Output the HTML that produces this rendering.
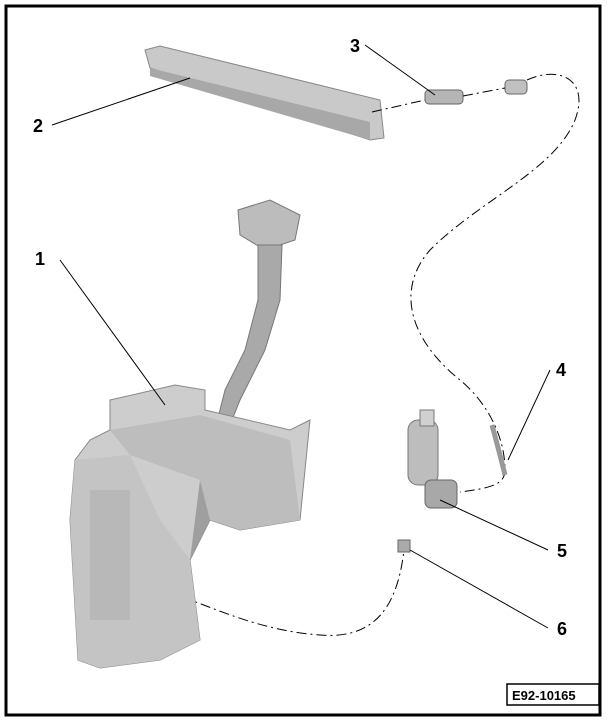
<!DOCTYPE html>
<html><head><meta charset="utf-8"><style>
html,body{margin:0;padding:0;background:#fff}
svg{display:block}
text{font-family:"Liberation Sans",sans-serif;font-weight:bold;font-size:18px;fill:#000}
</style></head><body>
<svg width="607" height="722" viewBox="0 0 607 722" xmlns="http://www.w3.org/2000/svg">
<rect x="0" y="0" width="607" height="722" fill="#fff"/>
<rect x="6" y="6" width="594" height="709" fill="none" stroke="#000" stroke-width="3"/>
<!-- part 2: bar -->
<polygon points="145,50 160,46 380,100 384,138 370,140 150,68" fill="#c9c9c9" stroke="#888" stroke-width="1"/>
<polygon points="150,68 370,122 370,140 150,76" fill="#a8a8a8"/>
<!-- part 3 -->
<rect x="425" y="90" width="38" height="14" rx="4" fill="#b5b5b5" stroke="#666"/>
<rect x="505" y="80" width="22" height="14" rx="4" fill="#c0c0c0" stroke="#666"/>
<!-- hoses -->
<path d="M372,112 L425,100 M463,96 L505,88 M527,80 C560,65 590,80 575,120 C555,170 480,200 430,250 C395,290 410,340 460,380 C490,405 505,440 505,470 C505,485 490,488 460,492" fill="none" stroke="#000" stroke-width="1" stroke-dasharray="10,4,2,4"/>
<path d="M405,540 C400,600 380,640 320,635 C250,630 200,600 160,590" fill="none" stroke="#000" stroke-width="1" stroke-dasharray="10,4,2,4"/>
<!-- part 4 clip -->
<path d="M492,425 L500,455 L505,475" stroke="#999" stroke-width="5" fill="none"/>
<!-- pump 5 -->
<rect x="408" y="420" width="30" height="65" rx="10" fill="#bdbdbd" stroke="#777"/>
<rect x="420" y="410" width="14" height="16" fill="#d0d0d0" stroke="#777"/>
<rect x="425" y="480" width="32" height="28" rx="6" fill="#a8a8a8" stroke="#666"/>
<!-- 6 -->
<rect x="398" y="540" width="12" height="12" fill="#aaa" stroke="#666"/>
<!-- filler neck -->
<polygon points="238,210 270,200 300,215 295,240 265,250 240,235" fill="#bcbcbc" stroke="#777"/>
<polygon points="258,245 282,245 280,300 265,350 250,380 240,400 228,430 215,430 225,390 245,350 258,300" fill="#a9a9a9" stroke="#777"/>
<!-- tank -->
<polygon points="110,400 175,385 205,390 205,410 290,430 310,420 300,520 240,530 210,520 190,560 200,640 160,660 100,668 78,660 70,520 75,460 90,440 110,430" fill="#cdcdcd" stroke="#888"/>
<polygon points="110,430 200,415 290,440 300,520 240,530 210,520 200,480 130,455" fill="#bdbdbd"/>
<polygon points="75,460 130,455 160,520 190,560 200,640 160,660 100,668 78,660 70,520" fill="#c4c4c4"/>
<rect x="90" y="490" width="40" height="130" fill="#b0b0b0" opacity=".6"/>
<polygon points="200,480 210,520 190,560" fill="#9f9f9f"/>
<!-- leader lines -->
<g stroke="#000" stroke-width="1" fill="none">
<line x1="52" y1="125" x2="190" y2="78"/>
<line x1="60" y1="260" x2="165" y2="405"/>
<line x1="365" y1="45" x2="435" y2="95"/>
<line x1="550" y1="370" x2="508" y2="460"/>
<line x1="548" y1="550" x2="440" y2="500"/>
<line x1="548" y1="628" x2="410" y2="550"/>
</g>
<text x="33" y="132">2</text>
<text x="35" y="265">1</text>
<text x="350" y="52">3</text>
<text x="556" y="376">4</text>
<text x="557" y="557">5</text>
<text x="557" y="635">6</text>
<rect x="507" y="684" width="92" height="21" fill="#fff" stroke="#000" stroke-width="1.5"/>
<text x="512" y="700" style="font-size:13px">E92-10165</text>
</svg>
</body></html>
